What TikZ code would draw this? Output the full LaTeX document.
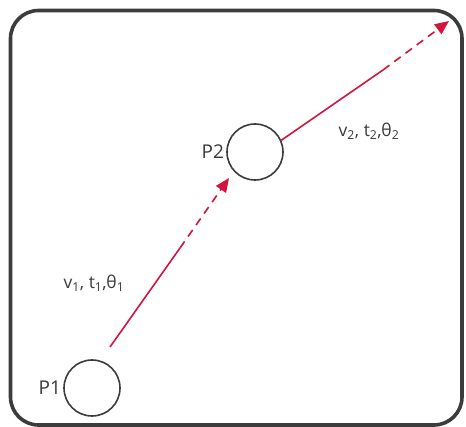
\documentclass[tikz,border=0pt]{standalone}
\usepackage{fontspec}
\setmainfont{Open Sans}
\usepackage{xcolor}
\usetikzlibrary{arrows.meta, positioning}

\definecolor{pathred}{HTML}{D3143D}
\definecolor{framegray}{HTML}{3C3C3C}
\definecolor{textgray}{HTML}{3A3A3A}

\begin{document}
\begin{tikzpicture}[
  x=1pt, y=-1pt,
  node distance=2pt,
  point/.style={draw=framegray, circle, line width=1.6pt, minimum size=56pt, inner sep=0pt},
  ptlabel/.style={text=textgray, font=\fontsize{19}{22}\selectfont, inner sep=0pt},
  param/.style={text=textgray, font=\fontsize{17.5}{20}\selectfont, inner sep=0pt},
  track/.style={draw=pathred, line width=1.6pt},
  future/.style={track, dash pattern=on 8pt off 6pt, -{Triangle[length=14pt, width=12pt]}}
]
\useasboundingbox (0,0) rectangle (466,427);

% Frame
\draw[framegray, line width=3.6pt, rounded corners=28pt] (10.5,10.5) rectangle (462,425);

% Nodes
\node[point] (p1) at (92,388) {};
\node[point] (p2) at (255,152) {};
\node[ptlabel, left=of p1] (l1) {P1};
\node[ptlabel, left=of p2] (l2) {P2};
\node[param] (v1) at (94,283) {v\textsubscript{1}, t\textsubscript{1},θ\textsubscript{1}};
\node[param] (v2) at (369,131) {v\textsubscript{2}, t\textsubscript{2},θ\textsubscript{2}};

% Way points
\coordinate (s1) at (110,347);
\coordinate (m1) at (180,248);
\coordinate (e1) at (229,178);
\coordinate (m2) at (383,70);
\coordinate (e2) at (449,21);

% Pointers
\draw[track] (s1) -- (m1);
\draw[future] (m1) -- (e1);
\draw[track] (p2.24) -- (m2);
\draw[future] (m2) -- (e2);

\end{tikzpicture}
\end{document}
